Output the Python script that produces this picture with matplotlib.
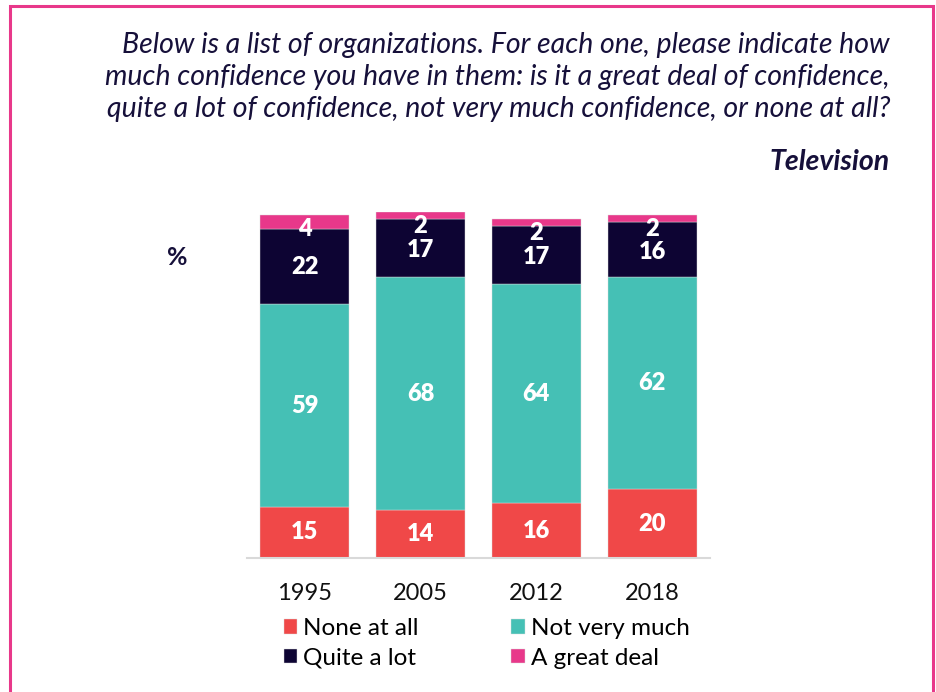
import matplotlib.pyplot as plt
from matplotlib.patches import Rectangle

years = ['1995', '2005', '2012', '2018']
none_at_all = [15, 14, 16, 20]
not_very_much = [59, 68, 64, 62]
quite_a_lot = [22, 17, 17, 16]
great_deal = [4, 2, 2, 2]

series_names = ['None at all', 'Not very much', 'Quite a lot', 'A great deal']
colors = ['#F04848', '#45C0B5', '#0D0433', '#E8388A']
navy = '#16103A'

plt.rcParams['font.family'] = ['Lato', 'DejaVu Sans']

fig = plt.figure(figsize=(9.37, 6.92), dpi=100)
W, H = 937, 692

# pink frame
fig.patches.append(Rectangle((10 / W, -0.05), 923 / W, 1.05 - 6 / H,
                             transform=fig.transFigure, fill=False,
                             edgecolor='#E8388A', linewidth=2.2))

# question text
question = ["Below is a list of organizations. For each one, please indicate how",
            "much confidence you have in them: is it a great deal of confidence,",
            "quite a lot of confidence, not very much confidence, or none at all?"]
for i, line in enumerate(question):
    fig.text(890 / W, 1 - (45 + 32 * i) / H, line, ha='right', va='center',
             fontsize=20.5, style='italic', color=navy)
fig.text(890 / W, 1 - 162 / H, 'Television', ha='right', va='center',
         fontsize=20.5, style='italic', weight='bold', color=navy)
fig.text(177 / W, 1 - 258 / H, '%', ha='center', va='center',
         fontsize=18, color=navy, weight='bold')

ax = fig.add_axes([247 / W, 1 - 558 / H, 463 / W, 346 / H])
x = list(range(len(years)))
series = [none_at_all, not_very_much, quite_a_lot, great_deal]
bottoms = [0] * len(years)
handles = []
for vals, name, c in zip(series, series_names, colors):
    bars = ax.bar(x, vals, bottom=bottoms, width=0.77, color=c, label=name,
                  edgecolor='#dddddd', linewidth=0.3)
    handles.append(bars)
    for i, v in enumerate(vals):
        if name == 'A great deal':
            # small values sit just under the top of the bar
            ypos = bottoms[i] + v - 4.0
        elif name == 'Quite a lot' and great_deal[i] < 4:
            ypos = bottoms[i] + v / 2 - 0.6
        else:
            ypos = bottoms[i] + v / 2
        ax.text(i, ypos, str(v), ha='center', va='center', color='white',
                fontsize=17, weight='heavy')
    bottoms = [b + v for b, v in zip(bottoms, vals)]

ax.set_xlim(-0.5, 3.5)
ax.set_ylim(0, 101)
ax.set_xticks(x)
ax.set_xticklabels(years, fontsize=17, color='#111111')
ax.tick_params(axis='x', length=0, pad=18)
ax.set_yticks([])
for s in ['top', 'right', 'left']:
    ax.spines[s].set_visible(False)
ax.spines['bottom'].set_color('#d9d9d9')
ax.spines['bottom'].set_linewidth(1.5)

# legend filled row by row like the original
order = [0, 2, 1, 3]
fig.legend([handles[k] for k in order], [series_names[k] for k in order],
           loc='upper left', bbox_to_anchor=(284 / W, 1 - 618 / H),
           ncol=2, frameon=False, fontsize=17.5, handlelength=0.55, handleheight=0.55,
           handletextpad=0.25, columnspacing=3.8, labelspacing=0.35,
           borderaxespad=0, borderpad=0)

fig.savefig('out.png', dpi=100)
